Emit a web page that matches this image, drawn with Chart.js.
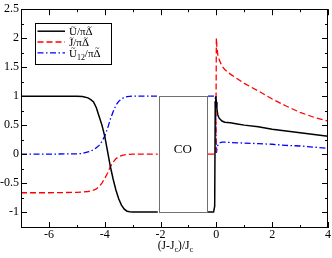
<!DOCTYPE html>
<html><head><meta charset="utf-8">
<script src="https://cdn.jsdelivr.net/npm/chart.js@4/dist/chart.umd.min.js"></script>
<style>html,body{margin:0;padding:0;background:#fff}#wrap{width:332px;height:258px;position:relative}</style>
</head><body><div id="wrap"><canvas id="c" width="332" height="258"></canvas></div>
<script>
// ---- data ----
const xValues = [-7, -6, -5, -4.8, -4.6, -4.5, -4.4, -4.3, -4.2, -4.1, -4.0, -3.9, -3.8, -3.7, -3.6, -3.5, -3.4, -3.3, -3.2, -3.1, -3.0, -2.5, -2.1,
  -1.2,
  -0.3, -0.1, -0.06, -0.04, -0.02, 0, 0.02, 0.05, 0.1, 0.2, 0.3, 0.5, 0.75, 1, 1.5, 2, 2.5, 3, 3.5, 4];
const uTilde = [1, 1, 1, 0.995, 0.97, 0.94, 0.9, 0.8, 0.65, 0.5, 0.31, 0.05, -0.21, -0.43, -0.62, -0.77, -0.88, -0.95, -0.985, -0.995, -1, -1, -1,
  null,
  -1, -1, -0.9, 0.9, 1.0, 0.9, 0.78, 0.68, 0.62, 0.57, 0.55, 0.54, 0.52, 0.50, 0.47, 0.43, 0.40, 0.37, 0.34, 0.31];
const jTilde = [-0.667, -0.667, -0.66, -0.655, -0.645, -0.635, -0.62, -0.6, -0.56, -0.5, -0.42, -0.33, -0.22, -0.14, -0.08, -0.045, -0.025, -0.012, -0.006, -0.003, 0, 0, 0,
  null,
  0, 0, 0, 0, 0.02, 2.0, 1.85, 1.72, 1.63, 1.52, 1.46, 1.38, 1.30, 1.22, 1.09, 0.95, 0.83, 0.72, 0.635, 0.57];
const u12Tilde = [0, 0, 0.005, 0.01, 0.04, 0.05, 0.08, 0.11, 0.15, 0.22, 0.31, 0.44, 0.6, 0.73, 0.84, 0.91, 0.95, 0.98, 0.99, 0.995, 1, 1, 1,
  null,
  1, 1, 1, 1, 0.6, 0.02, 0.08, 0.15, 0.19, 0.205, 0.205, 0.20, 0.195, 0.19, 0.18, 0.17, 0.15, 0.14, 0.12, 0.10];
const xTicks = [-6, -4, -2, 0, 2, 4];
const xTickLabels = ['-6', '-4', '-2', '0', '2', '4'];
const yTicks = [-1, -0.5, 0, 0.5, 1, 1.5, 2, 2.5];
const xMinorTicks = [-7, -5, -3, -1, 1, 3];
const yMinorTicks = [-1.25, -0.75, -0.25, 0.25, 0.75, 1.25, 1.75, 2.25];
const xRange = [-7, 4];
const yRange = [-1.275, 2.5];
const coRegion = {from: -2.06, to: -0.34, low: -1, high: 1, label: 'CO', labelY: 0.08};
// label parts: [text, mode]  mode 0 = normal, 1 = subscript, 2 = with tilde accent
const seriesLabels = [
  [['U', 2], ['/π', 0], ['Δ', 2]],
  [['J', 2], ['/π', 0], ['Δ', 2]],
  [['U', 2], ['12', 1], ['/π', 0], ['Δ', 2]]
];
const axisTitle = [['(J-J', 0], ['c', 1], [')/J', 0], ['c', 1]];

const SERIF = '"Liberation Serif", "DejaVu Serif", serif';

function richWidth(ctx, parts, size) {
  let w = 0;
  for (const [t, m] of parts) { ctx.font = (m === 1 ? size * 0.72 : size) + 'px ' + SERIF; w += ctx.measureText(t).width; }
  return w;
}
function drawRich(ctx, parts, x, y, size) {
  ctx.textBaseline = 'alphabetic'; ctx.textAlign = 'left';
  for (const [t, m] of parts) {
    ctx.font = (m === 1 ? size * 0.72 : size) + 'px ' + SERIF;
    const w = ctx.measureText(t).width;
    ctx.fillText(t, x, m === 1 ? y + size * 0.28 : y);
    if (m === 2) {
      ctx.save();
      ctx.font = size * 0.75 + 'px ' + SERIF; ctx.textAlign = 'center';
      ctx.fillText('~', x + w / 2 + size * 0.03, y - size * 0.5);
      ctx.restore();
    }
    x += w;
  }
}

const decor = {
  id: 'decor',
  beforeDatasetsDraw(chart) {
    const {ctx, scales: {x, y}} = chart;
    ctx.save();
    const x0 = x.getPixelForValue(coRegion.from), x1 = x.getPixelForValue(coRegion.to);
    const y0 = y.getPixelForValue(coRegion.high), y1 = y.getPixelForValue(coRegion.low);
    ctx.strokeStyle = '#707070'; ctx.lineWidth = 1;
    ctx.strokeRect(Math.round(x0) + 0.5, Math.round(y0) + 0.5, Math.round(x1 - x0), Math.round(y1 - y0));
    ctx.fillStyle = '#000'; ctx.font = '13px ' + SERIF; ctx.textAlign = 'center'; ctx.textBaseline = 'middle';
    ctx.fillText(coRegion.label, (x0 + x1) / 2, y.getPixelForValue(coRegion.labelY));
    ctx.restore();
  },
  afterDraw(chart) {
    const {ctx, chartArea: a, scales: {x, y}} = chart;
    ctx.save();
    ctx.strokeStyle = '#000'; ctx.lineWidth = 1;
    ctx.strokeRect(Math.round(a.left) + 0.5, Math.round(a.top) + 0.5, Math.round(a.right - a.left) - 1, Math.round(a.bottom - a.top) - 1);
    ctx.beginPath();
    const tickX = (vals, len) => {
      for (const v of vals) {
        const px = Math.round(x.getPixelForValue(v)) + 0.5;
        ctx.moveTo(px, a.bottom); ctx.lineTo(px, a.bottom - len);
        ctx.moveTo(px, a.top); ctx.lineTo(px, a.top + len);
      }
    };
    const tickY = (vals, len) => {
      for (const v of vals) {
        const py = Math.round(y.getPixelForValue(v)) + 0.5;
        ctx.moveTo(a.left, py); ctx.lineTo(a.left + len, py);
        ctx.moveTo(a.right, py); ctx.lineTo(a.right - len, py);
      }
    };
    tickX(xTicks, 6); tickX(xMinorTicks, 3);
    tickY(yTicks, 6); tickY(yMinorTicks, 3);
    ctx.stroke();
    // x tick labels
    ctx.fillStyle = '#000'; ctx.font = '12px ' + SERIF; ctx.textAlign = 'center'; ctx.textBaseline = 'alphabetic';
    xTicks.forEach((v, i) => ctx.fillText(xTickLabels[i], x.getPixelForValue(v), a.bottom + 10));
    // axis title
    const tw = richWidth(ctx, axisTitle, 11.5);
    drawRich(ctx, axisTitle, (a.left + a.right) / 2 - tw / 2 + 1, 248.5, 11.5);
    // legend
    const lx = a.left + 14, ly = a.top + 14, lw = 76, lh = 41;
    ctx.fillStyle = '#fff'; ctx.fillRect(lx, ly, lw, lh);
    ctx.strokeStyle = '#000'; ctx.lineWidth = 1;
    ctx.strokeRect(Math.round(lx) + 0.5, Math.round(ly) + 0.5, lw, lh);
    chart.data.datasets.forEach((ds, i) => {
      const ry = ly + 8 + i * 10.8;
      ctx.save();
      ctx.strokeStyle = ds.borderColor; ctx.lineWidth = ds.borderWidth; ctx.setLineDash(ds.borderDash || []);
      ctx.beginPath(); ctx.moveTo(lx + 2.5, ry); ctx.lineTo(lx + 30, ry); ctx.stroke();
      ctx.restore();
      ctx.fillStyle = '#000';
      drawRich(ctx, seriesLabels[i], lx + 34, ry + 4, 11);
    });
    ctx.restore();
  }
};

const mk = (vals, color, width, dash, name) => ({
  label: name,
  data: xValues.map((xv, i) => ({x: xv, y: vals[i]})),
  borderColor: color, borderWidth: width, borderDash: dash,
  pointRadius: 0, fill: false, spanGaps: false, tension: 0
});

new Chart(document.getElementById('c'), {
  type: 'line',
  data: {datasets: [
    mk(uTilde, '#000000', 1.5, [], 'U'),
    mk(jTilde, '#ff0000', 1.3, [6, 3], 'J'),
    mk(u12Tilde, '#0000ff', 1.3, [6, 2.5, 1.5, 2.5], 'U12')
  ]},
  options: {
    responsive: false, animation: false, devicePixelRatio: 1,
    layout: {padding: {top: 5, right: 4, left: 0, bottom: 0}},
    plugins: {legend: {display: false}, tooltip: {enabled: false}},
    scales: {
      x: {
        type: 'linear', min: xRange[0], max: xRange[1],
        grid: {display: false, drawTicks: false}, border: {display: false},
        afterBuildTicks: s => { s.ticks = xTicks.map(v => ({value: v})); },
        afterFit: s => { s.height = 30; },
        ticks: {display: false}
      },
      y: {
        type: 'linear', min: yRange[0], max: yRange[1],
        grid: {display: false, drawTicks: false}, border: {display: false},
        afterBuildTicks: s => { s.ticks = yTicks.map(v => ({value: v})); },
        afterFit: s => { s.width = 21; },
        ticks: {color: '#000', font: {family: SERIF, size: 12}, padding: 2, autoSkip: false, callback: v => String(v)}
      }
    }
  },
  plugins: [decor]
});
</script></body></html>
